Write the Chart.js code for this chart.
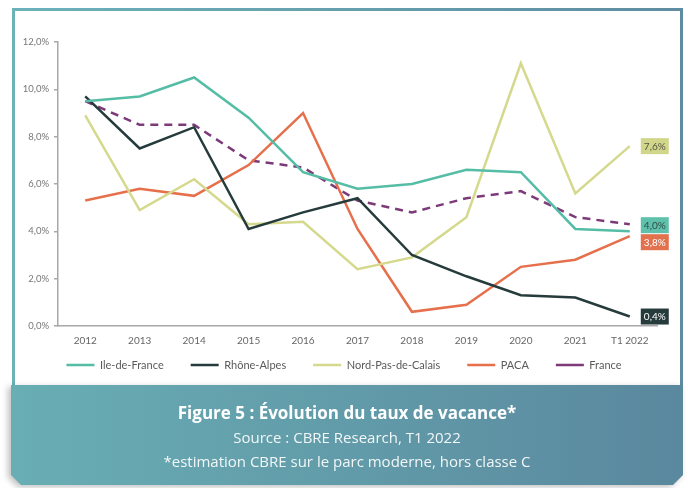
<!DOCTYPE html>
<html lang="fr">
<head>
<meta charset="utf-8">
<title>Évolution du taux de vacance</title>
<script src="https://cdn.jsdelivr.net/npm/chart.js@4.4.1/dist/chart.umd.min.js"></script>
<style>
  html, body { margin: 0; padding: 0; background: #fff; }
  body { width: 688px; height: 488px; position: relative; overflow: hidden; font-family: "Open Sans", sans-serif; }
  #frame {
    position: absolute; left: 12px; top: 8px; width: 665px; height: 380px;
    border: 3px solid; border-image: linear-gradient(90deg, #6cb2b9, #5f8ca2) 1;
  }
  #wrap { position: absolute; left: 0; top: 0; width: 688px; height: 420px; }
  #shadow { position: absolute; left: 11px; top: 385px; width: 672px; height: 100px; filter: drop-shadow(-3px 2px 3px rgba(0,0,0,0.25)); }
  #caption {
    width: 100%; height: 100%; box-sizing: border-box; padding-top: 16px;
    background: linear-gradient(90deg, #69aeb4, #5a889e);
    clip-path: polygon(0 0, 100% 0, 100% calc(100% - 10px), calc(100% - 10px) 100%, 10px 100%, 0 calc(100% - 10px));
    color: #fff; text-align: center;
  }
  #caption div { line-height: 24px; height: 24px; }
  #caption .title { font-size: 17px; font-weight: 700; }
  #caption .sub { font-size: 15px; color: #f2f7f8; }
</style>
</head>
<body>
<div id="frame"></div>
<div id="wrap"><canvas id="chart" width="688" height="420"></canvas></div>
<div id="shadow">
  <div id="caption">
    <div class="title">Figure 5 : Évolution du taux de vacance*</div>
    <div class="sub">Source : CBRE Research, T1 2022</div>
    <div class="sub">*estimation CBRE sur le parc moderne, hors classe C</div>
  </div>
</div>
<script>
document.addEventListener('DOMContentLoaded', () => {
    const categories = ['2012', '2013', '2014', '2015', '2016', '2017', '2018', '2019', '2020', '2021', 'T1 2022'];

    // taux de vacance en %
    const ileDeFrance = [9.5, 9.7, 10.5, 8.8, 6.5, 5.8, 6.0, 6.6, 6.5, 4.1, 4.0];
    const rhoneAlpes = [9.7, 7.5, 8.4, 4.1, 4.8, 5.4, 3.0, 2.1, 1.3, 1.2, 0.4];
    const nordPasDeCalais = [8.9, 4.9, 6.2, 4.3, 4.4, 2.4, 2.9, 4.6, 11.1, 5.6, 7.6];
    const paca = [5.3, 5.8, 5.5, 6.8, 9.0, 4.1, 0.6, 0.9, 2.5, 2.8, 3.8];
    const france = [9.5, 8.5, 8.5, 7.0, 6.7, 5.3, 4.8, 5.4, 5.7, 4.6, 4.3];

    const yMin = 0;
    const yMax = 12;
    const yStep = 2;

    const fmt = (v) => v.toFixed(1).replace('.', ',') + '%';

    // étiquettes en bout de courbe
    const endLabels = {
        id: 'endLabels',
        afterDatasetsDraw(chart) {
            const ctx = chart.ctx;
            const h = 16;
            const w = 28;
            const items = [];
            chart.data.datasets.forEach((ds, i) => {
                if (!ds.endLabel) return;
                const meta = chart.getDatasetMeta(i);
                const pt = meta.data[meta.data.length - 1];
                items.push({
                    x: pt.x + 11,
                    y: pt.y,
                    text: fmt(ds.data[ds.data.length - 1]),
                    bg: ds.endLabel.bg,
                    fg: ds.endLabel.fg,
                });
            });
            items.sort((a, b) => a.y - b.y);
            for (let k = 1; k < items.length; k++) {
                const gap = items[k].y - items[k - 1].y;
                if (gap < h + 1) {
                    const shift = (h + 1 - gap) / 2;
                    items[k - 1].y -= shift;
                    items[k].y += shift;
                }
            }
            ctx.save();
            ctx.font = '10px Lato';
            ctx.textAlign = 'center';
            ctx.textBaseline = 'middle';
            items.forEach((it) => {
                ctx.fillStyle = it.bg;
                ctx.fillRect(it.x, it.y - h / 2, w, h);
                ctx.fillStyle = it.fg;
                ctx.fillText(it.text, it.x + w / 2, it.y + 0.5);
            });
            ctx.restore();
        },
    };

    // la légende est centrée sur la page et remontée juste sous les années
    const legendShift = {
        id: 'legendShift',
        afterLayout(chart) {
            const lg = chart.legend;
            const dx = (chart.width - lg.left - lg.right) / 2;
            const pad = lg.options.labels.padding;
            const targetY = chart.chartArea.bottom + 39;
            const dy = targetY - (lg.top + pad + 5.5);
            lg.left += dx; lg.right += dx;
            lg.top += dy; lg.bottom += dy;
        },
    };

    const line = (label, data, color, extra) => Object.assign({
        label: label,
        data: data,
        borderColor: color,
        backgroundColor: color,
        borderWidth: 2.5,
        pointRadius: 0,
        tension: 0,
        fill: false,
    }, extra || {});

    new Chart(document.getElementById('chart'), {
        type: 'line',
        data: {
            labels: categories,
            datasets: [
                line('Ile-de-France', ileDeFrance, '#55bda5', { endLabel: { bg: '#5fc1ab', fg: '#2f4a47' } }),
                line('Rhône-Alpes', rhoneAlpes, '#263b3b', { endLabel: { bg: '#263b3b', fg: '#ffffff' } }),
                line('Nord-Pas-de-Calais', nordPasDeCalais, '#d4d98e', { endLabel: { bg: '#d2d68a', fg: '#555544' } }),
                line('PACA', paca, '#e5704b', { endLabel: { bg: '#e2714e', fg: '#ffffff' } }),
                line('France', france, '#7c3a78', { borderDash: [8, 6] }),
            ],
        },
        options: {
            responsive: false,
            animation: false,
            layout: { padding: { top: 42, left: 0, right: 31, bottom: 16 } },
            plugins: {
                tooltip: { enabled: false },
                legend: {
                    position: 'bottom',
                    labels: {
                        usePointStyle: true,
                        pointStyle: 'line',
                        pointStyleWidth: 28,
                        padding: 27,
                        color: '#5a5a5a',
                        font: { family: 'Lato', size: 11 },
                    },
                },
            },
            scales: {
                x: {
                    offset: true,
                    grid: { display: false, drawTicks: false },
                    border: { display: true, color: '#a8a8a8', width: 1.5 },
                    ticks: { color: '#666', padding: 9, maxRotation: 0, font: { family: 'Lato', size: 10 } },
                },
                y: {
                    min: yMin,
                    max: yMax,
                    ticks: { stepSize: yStep, color: '#777', padding: 5, font: { family: 'Lato', size: 9.5 }, callback: (v) => fmt(v) },
                    grid: { drawOnChartArea: false, drawTicks: true, tickLength: 4, color: '#a8a8a8', lineWidth: 1.5 },
                    border: { display: true, color: '#a8a8a8', width: 1.5 },
                    afterFit: (s) => { s.width = 58; },
                },
            },
        },
        plugins: [endLabels, legendShift],
    });
});
</script>
</body>
</html>
